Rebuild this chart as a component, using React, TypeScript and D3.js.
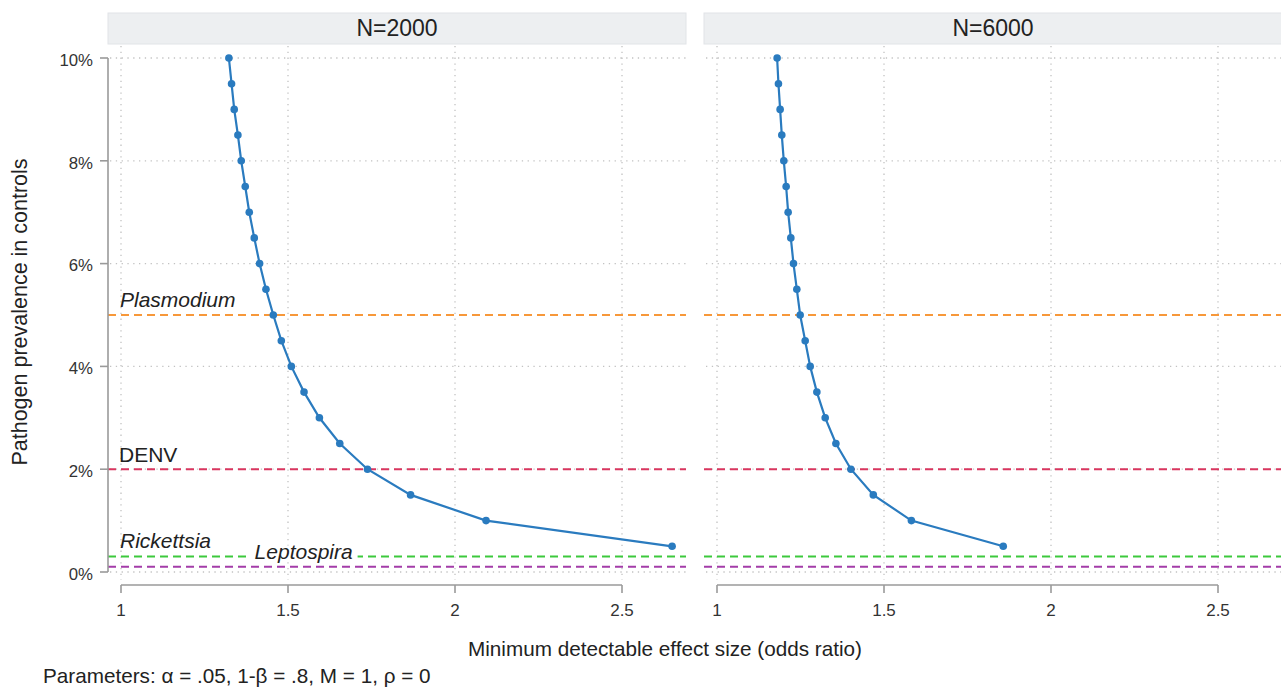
import React from "react";
import * as d3 from "d3";

// prevalence in controls (%), one point every 0.5
const prevalence = [10, 9.5, 9, 8.5, 8, 7.5, 7, 6.5, 6, 5.5, 5, 4.5, 4, 3.5, 3, 2.5, 2, 1.5, 1, 0.5];

// minimum detectable odds ratio
const orN2000 = [1.323, 1.331, 1.339, 1.35, 1.36, 1.372, 1.384, 1.399, 1.415, 1.434, 1.456, 1.48, 1.51, 1.548, 1.594, 1.655, 1.738, 1.867, 2.093, 2.65];
const orN6000 = [1.18, 1.184, 1.189, 1.194, 1.2, 1.207, 1.213, 1.221, 1.229, 1.239, 1.249, 1.264, 1.279, 1.299, 1.324, 1.356, 1.401, 1.468, 1.582, 1.857];

const panelTitles = ["N=2000", "N=6000"];

const pathogens = ["Plasmodium", "DENV", "Rickettsia", "Leptospira"];
const pathogenPrevalence = [5, 2, 0.3, 0.1];

const xTicks = [1, 1.5, 2, 2.5];
const yTicks = [0, 2, 4, 6, 8, 10];

const lineColors: Record<string, string> = {
  Plasmodium: "#f7983a",
  DENV: "#d9365f",
  Rickettsia: "#3cc93c",
  Leptospira: "#a43ca9",
};

const FONT = "'Liberation Sans', Arial, Helvetica, sans-serif";
const BLUE = "#2a7bbf";

const W = 1281;
const H = 696;
const panelW = 578;
const panelLefts = [108, 704];
const plotTop = 46;
const plotBottom = 580;
const axisY = 585;

export default function App() {
  const y = d3.scaleLinear().domain([0, 10]).range([572, 58]);
  const series = [orN2000, orN6000];

  return (
    <svg
      width={W}
      height={H}
      style={{ position: "absolute", left: 0, top: 0, background: "#fff" }}
      fontFamily={FONT}
    >
      {panelLefts.map((left, pi) => {
        const x = d3.scaleLinear().domain([1, 2.5]).range([left + 13, left + 514]);
        const pts = prevalence.map((p, i) => ({ p, or: series[pi][i] }));
        const line = d3
          .line<{ p: number; or: number }>()
          .x((d) => x(d.or))
          .y((d) => y(d.p));
        const right = left + panelW;
        return (
          <g key={pi}>
            {/* strip */}
            <rect x={left} y={13} width={panelW} height={31} fill="#edeff1" stroke="#e1e4e7" />
            <text x={left + panelW / 2} y={36} textAnchor="middle" fontSize={23} fill="#222">
              {panelTitles[pi]}
            </text>

            {/* dotted grid */}
            {yTicks.map((t) => (
              <line
                key={"gy" + t}
                x1={left + 2}
                x2={right}
                y1={y(t)}
                y2={y(t)}
                stroke="#c2c2c2"
                strokeWidth={1.3}
                strokeDasharray="1.3 4.5"
              />
            ))}
            {xTicks.map((t) => (
              <line
                key={"gx" + t}
                x1={x(t)}
                x2={x(t)}
                y1={plotTop}
                y2={plotBottom}
                stroke="#c2c2c2"
                strokeWidth={1.3}
                strokeDasharray="1.3 4.5"
              />
            ))}

            {/* pathogen reference lines */}
            {pathogens.map((name, i) => (
              <line
                key={name}
                x1={left}
                x2={right}
                y1={y(pathogenPrevalence[i])}
                y2={y(pathogenPrevalence[i])}
                stroke={lineColors[name]}
                strokeWidth={2}
                strokeDasharray="8 5"
              />
            ))}

            {/* curve */}
            <path d={line(pts) || ""} fill="none" stroke={BLUE} strokeWidth={2.2} />
            {pts.map((d, i) => (
              <circle key={i} cx={x(d.or)} cy={y(d.p)} r={3.8} fill={BLUE} />
            ))}

            {/* x axis */}
            <line x1={x(1)} x2={x(2.5)} y1={axisY} y2={axisY} stroke="#9a9a9a" strokeWidth={1.6} />
            {xTicks.map((t) => (
              <g key={"xt" + t}>
                <line x1={x(t)} x2={x(t)} y1={axisY} y2={axisY + 8} stroke="#9a9a9a" strokeWidth={1.6} />
                <text x={x(t)} y={616} textAnchor="middle" fontSize={17} fill="#333">
                  {t}
                </text>
              </g>
            ))}

            {/* labels only on the first panel */}
            {pi === 0 && (
              <g fontSize={21} fill="#222">
                <text x={left + 12} y={y(5) - 8} fontStyle="italic">
                  Plasmodium
                </text>
                <text x={left + 11} y={y(2) - 7}>
                  DENV
                </text>
                <text x={left + 12} y={y(0.3) - 9} fontStyle="italic">
                  Rickettsia
                </text>
                <rect x={x(1.4) - 6} y={y(0.3) - 11} width={109} height={14} fill="#fff" />
                <text x={x(1.4)} y={y(0.3) + 2.5} fontStyle="italic">
                  Leptospira
                </text>
              </g>
            )}
          </g>
        );
      })}

      {/* y axis */}
      <line x1={108} x2={108} y1={y(10)} y2={y(0)} stroke="#9a9a9a" strokeWidth={1.6} />
      {yTicks.map((t) => (
        <g key={"yt" + t}>
          <line x1={100} x2={108} y1={y(t)} y2={y(t)} stroke="#9a9a9a" strokeWidth={1.6} />
          <text x={93} y={y(t) + 7.7} textAnchor="end" fontSize={16.8} fill="#333">
            {t + "%"}
          </text>
        </g>
      ))}

      {/* axis titles */}
      <text
        transform={`translate(27, ${y(5) - 3}) rotate(-90)`}
        textAnchor="middle"
        fontSize={21.5}
        fill="#222"
      >
        Pathogen prevalence in controls
      </text>
      <text x={665} y={656} textAnchor="middle" fontSize={20.7} fill="#222">
        Minimum detectable effect size (odds ratio)
      </text>
      <text x={43} y={683} fontSize={20.7} fill="#222">
        Parameters: α = .05, 1-β = .8, M = 1, ρ = 0
      </text>
    </svg>
  );
}
